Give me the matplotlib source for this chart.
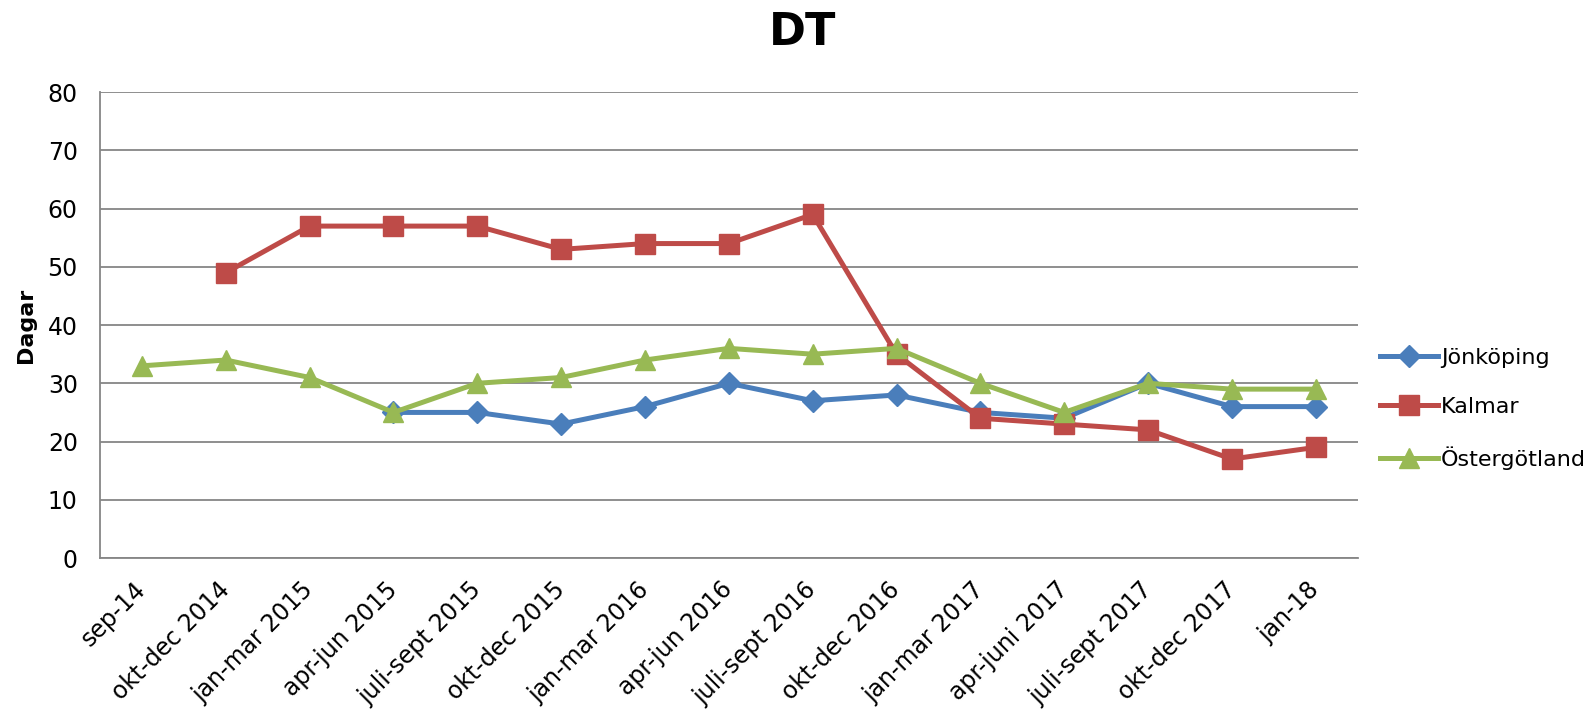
import matplotlib.pyplot as plt
import numpy as np

# category labels and series values (None = no data)
labels = ['sep-14', 'okt-dec 2014', 'jan-mar 2015', 'apr-jun 2015', 'juli-sept 2015',
          'okt-dec 2015', 'jan-mar 2016', 'apr-jun 2016', 'juli-sept 2016', 'okt-dec 2016',
          'jan-mar 2017', 'apr-juni 2017', 'juli-sept 2017', 'okt-dec 2017', 'jan-18']
jonkoping = [None, None, None, 25, 25, 23, 26, 30, 27, 28, 25, 24, 30, 26, 26]
kalmar = [None, 49, 57, 57, 57, 53, 54, 54, 59, 35, 24, 23, 22, 17, 19]
ostergotland = [33, 34, 31, 25, 30, 31, 34, 36, 35, 36, 30, 25, 30, 29, 29]

def arr(v):
    return np.array([np.nan if a is None else a for a in v], dtype=float)

x = np.arange(len(labels))

fig = plt.figure(figsize=(15.95, 7.2), dpi=100)
ax = fig.add_axes([0.0627, 0.225, 0.7885, 0.647])

ax.plot(x, arr(jonkoping), color='#4A7EBB', lw=3.6, marker='D', ms=11, label='Jönköping')
ax.plot(x, arr(kalmar), color='#BE4B48', lw=3.6, marker='s', ms=14, label='Kalmar')
ax.plot(x, arr(ostergotland), color='#98B954', lw=3.6, marker='^', ms=14, label='Östergötland')

ax.set_xlim(-0.5, len(labels) - 0.5)
ax.set_ylim(0, 80)
ax.set_yticks(range(0, 81, 10))
ax.yaxis.grid(True, color='#868686', lw=1.3)
ax.set_axisbelow(True)
for s in ['top', 'right']:
    ax.spines[s].set_visible(False)
for s in ['left', 'bottom']:
    ax.spines[s].set_color('#868686')
    ax.spines[s].set_linewidth(1.3)
ax.tick_params(length=0, labelsize=17)
ax.tick_params(axis='y', pad=16)
ax.tick_params(axis='x', pad=20)
ax.set_xticks(x)
ax.set_xticklabels(labels, rotation=45, ha='right', va='center', rotation_mode='anchor')
ax.set_ylabel('Dagar', fontsize=16, fontweight='bold', labelpad=8)
fig.suptitle('DT', fontsize=32, fontweight='bold', x=0.503, y=0.985)

ax.legend(loc='center left', bbox_to_anchor=(1.0, 0.32), frameon=False, fontsize=16,
          handlelength=2.6, handletextpad=0.15, labelspacing=1.3, borderaxespad=0.6)

fig.savefig('out.png', dpi=100)
